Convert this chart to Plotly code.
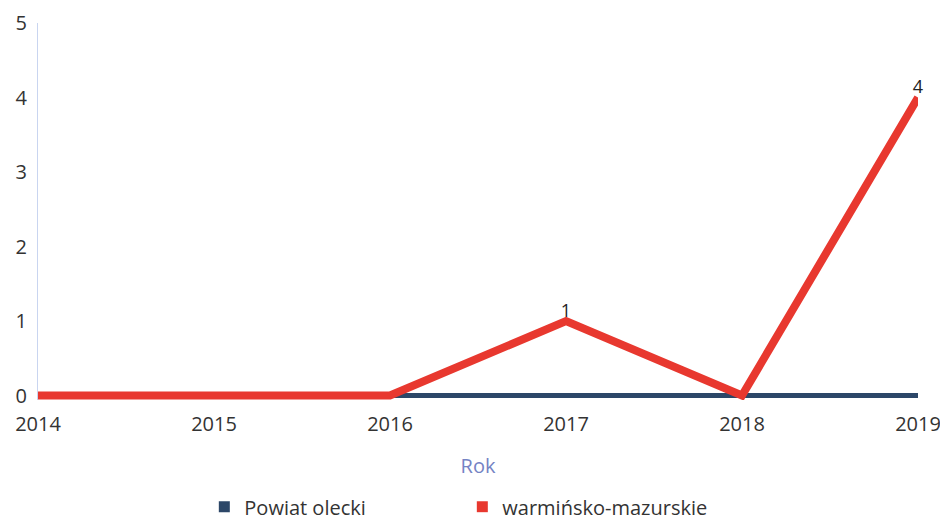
import plotly.graph_objects as go

lata = [2014, 2015, 2016, 2017, 2018, 2019]
powiat_olecki = [0, 0, 0, 0, 0, 0]
warminsko_mazurskie = [0, 0, 0, 1, 0, 4]
etykiety_wm = ['', '', '', '1', '', '4']

kolor_powiat = '#2c4768'
kolor_woj = '#e8382f'

fig = go.Figure()

# linie (bez legendy - legenda z kwadratami osobno)
fig.add_trace(go.Scatter(x=lata, y=powiat_olecki, mode='lines',
                         line=dict(color=kolor_powiat, width=5),
                         showlegend=False, hoverinfo='skip'))
fig.add_trace(go.Scatter(x=lata, y=warminsko_mazurskie, mode='lines+text',
                         line=dict(color=kolor_woj, width=8),
                         text=etykiety_wm, textposition='top center',
                         textfont=dict(size=18, color='#222222'),
                         cliponaxis=False,
                         showlegend=False, hoverinfo='skip'))

fig.add_trace(go.Scatter(x=[None], y=[None], mode='markers', name='Powiat olecki',
                         marker=dict(symbol='square', size=11, color=kolor_powiat)))
fig.add_trace(go.Scatter(x=[None], y=[None], mode='markers', name='warmińsko-mazurskie',
                         marker=dict(symbol='square', size=11, color=kolor_woj)))

fig.update_layout(width=940, height=522,
                  margin=dict(l=38, r=22, t=23, b=122, autoexpand=False),
                  plot_bgcolor='white', paper_bgcolor='white',
                  font={'family': 'Open Sans', 'size': 20, 'color': '#333333'},
                  legend=dict(orientation='h', x=0.189, xanchor='left',
                              y=-0.283, yanchor='middle',
                              font=dict(size=20, color='#333333'),
                              itemwidth=30, entrywidth=213),
                  )
fig.update_xaxes(range=[2014, 2019], tickvals=lata, ticktext=[str(r) for r in lata],
                 showgrid=False, zeroline=False, showline=False, automargin=False,
                 ticklabelstandoff=10, ticklabeloverflow='allow',
                 title=dict(text='Rok', font=dict(size=20, color='#7583c4'), standoff=22))
fig.update_yaxes(range=[-0.06, 5], dtick=1, showgrid=False, zeroline=False,
                 showline=True, linewidth=1, linecolor='#c9d5f0', automargin=False,
                 ticklabelstandoff=6)

fig.write_html("out.html", config={'displayModeBar': False},
               post_script="document.body.style.margin='0';")
